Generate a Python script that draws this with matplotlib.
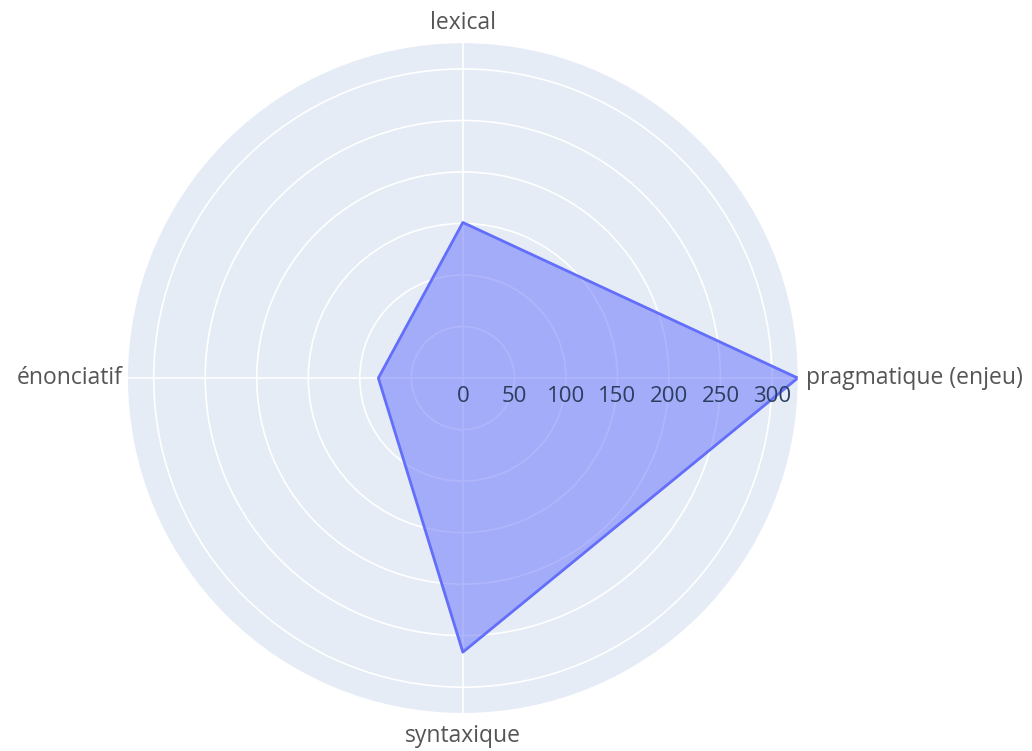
import numpy as np
import matplotlib
matplotlib.use("Agg")
import matplotlib.pyplot as plt

plt.rcParams["font.family"] = ["Open Sans", "DejaVu Sans"]

# Data
categories = ["pragmatique (enjeu)", "lexical", "énonciatif", "syntaxique"]
values = [325, 151, 82, 266]
radial_ticks = [0, 50, 100, 150, 200, 250, 300]
r_max = 325

line_color = "#636EFA"
bg_color = "#E5ECF6"

angles = np.deg2rad(np.arange(len(categories)) * 360 / len(categories))
theta = np.append(angles, angles[0])
r = np.append(values, values[0])

fig = plt.figure(figsize=(10.32, 7.51), dpi=100)
ax = fig.add_axes([0.124, 0.0506, 0.649, 0.892], projection="polar")
ax.set_facecolor(bg_color)
ax.spines["polar"].set_visible(False)

ax.set_ylim(0, r_max)
ax.set_yticks(radial_ticks[1:])
ax.set_yticklabels([])
ax.set_xticks(angles)
ax.set_xticklabels([])
ax.grid(True, color="white", linewidth=1.2)
ax.tick_params(length=0)

ax.fill(theta, r, color=line_color, alpha=0.5, linewidth=0, zorder=3)
ax.plot(theta, r, color=line_color, linewidth=2, zorder=4)

# radial tick labels along the 0 deg axis
for t in radial_ticks:
    ax.annotate(str(t), xy=(0, t), xytext=(0, -6), textcoords="offset points",
                ha="center", va="top", fontsize=16, color="#2a3f5f", zorder=5)

# category labels around the circle
align = [("left", "center", (6, 0)), ("center", "bottom", (0, 6)),
         ("right", "center", (-4, 0)), ("center", "top", (0, -8))]
for ang, lab, (ha, va, off) in zip(angles, categories, align):
    ax.annotate(lab, xy=(ang, r_max), xytext=off, textcoords="offset points",
                ha=ha, va=va, fontsize=16.5, color="#555555",
                annotation_clip=False)

fig.savefig("out.png", dpi=100)
